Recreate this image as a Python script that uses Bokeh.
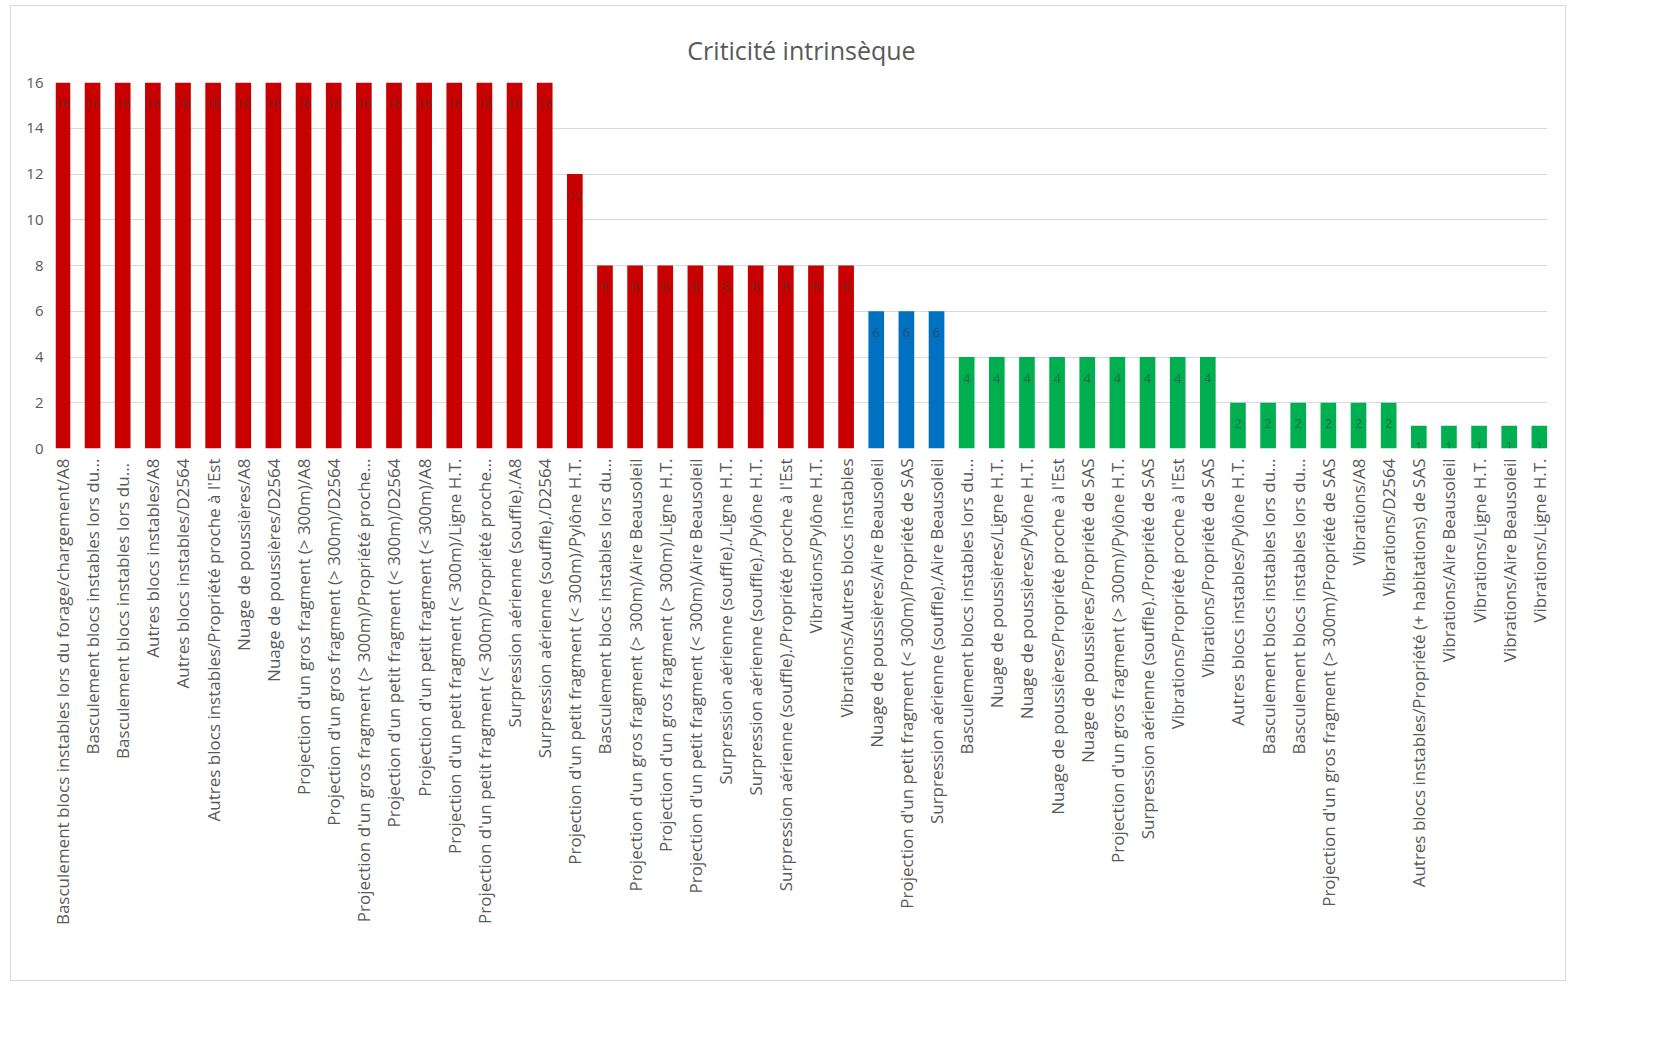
from bokeh.plotting import figure
from bokeh.models import Range1d, FixedTicker, ColumnDataSource
from bokeh.core.properties import value
from bokeh.embed import file_html
from bokeh.resources import INLINE

title = "Criticité intrinsèque"

categories = [
    "Basculement blocs instables lors du forage/chargement/A8",
    "Basculement blocs instables lors du...",
    "Basculement  blocs instables lors du...",
    "Autres blocs instables/A8",
    "Autres blocs instables/D2564",
    "Autres blocs instables/Propriété proche à l'Est",
    "Nuage de poussières/A8",
    "Nuage de poussières/D2564",
    "Projection d'un gros fragment (> 300m)/A8",
    "Projection d'un gros fragment (> 300m)/D2564",
    "Projection d'un gros fragment (> 300m)/Propriété proche...",
    "Projection d'un petit fragment (< 300m)/D2564",
    "Projection d'un petit fragment (< 300m)/A8",
    "Projection d'un petit fragment (< 300m)/Ligne H.T.",
    "Projection d'un petit fragment (< 300m)/Propriété proche...",
    "Surpression aérienne (souffle)./A8",
    "Surpression aérienne (souffle)./D2564",
    "Projection d'un petit fragment (< 300m)/Pylône H.T.",
    "Basculement blocs instables lors du...",
    "Projection d'un gros fragment (> 300m)/Aire Beausoleil",
    "Projection d'un gros fragment (> 300m)/Ligne H.T.",
    "Projection d'un petit fragment (< 300m)/Aire Beausoleil",
    "Surpression aérienne (souffle)./Ligne H.T.",
    "Surpression aérienne (souffle)./Pylône H.T.",
    "Surpression aérienne (souffle)./Propriété proche à l'Est",
    "Vibrations/Pylône H.T.",
    "Vibrations/Autres blocs instables",
    "Nuage de poussières/Aire Beausoleil",
    "Projection d'un petit fragment (< 300m)/Propriété de SAS",
    "Surpression aérienne (souffle)./Aire Beausoleil",
    "Basculement blocs instables lors du...",
    "Nuage de poussières/Ligne H.T.",
    "Nuage de poussières/Pylône H.T.",
    "Nuage de poussières/Propriété proche à l'Est",
    "Nuage de poussières/Propriété de SAS",
    "Projection d'un gros fragment (> 300m)/Pylône H.T.",
    "Surpression aérienne (souffle)./Propriété de SAS",
    "Vibrations/Propriété proche à l'Est",
    "Vibrations/Propriété de SAS",
    "Autres blocs instables/Pylône H.T.",
    "Basculement blocs instables lors du...",
    "Basculement blocs instables lors du...",
    "Projection d'un gros fragment (> 300m)/Propriété de SAS",
    "Vibrations/A8",
    "Vibrations/D2564",
    "Autres blocs instables/Propriété (+ habitations) de SAS",
    "Vibrations/Aire Beausoleil",
    "Vibrations/Ligne H.T.",
    "Vibrations/Aire Beausoleil",
    "Vibrations/Ligne H.T.",
]

values = [16] * 17 + [12] + [8] * 9 + [6] * 3 + [4] * 9 + [2] * 6 + [1] * 5

level_colors = {"red": "#C80000", "blue": "#0070C0", "green": "#00B050"}
levels = ["red"] * 27 + ["blue"] * 3 + ["green"] * 20

y_ticks = [0, 2, 4, 6, 8, 10, 12, 14, 16]

xs = list(range(len(categories)))
colors = [level_colors[l] for l in levels]
labels = [str(v) for v in values]

src = ColumnDataSource(dict(x=xs, top=values, color=colors, label=labels))

p = figure(
    width=1556, height=976,
    output_backend="svg", toolbar_location=None,
    x_range=Range1d(-0.23, 49.27), y_range=Range1d(0, 16),
    min_border_left=44, min_border_right=20,
    min_border_top=76, min_border_bottom=534,
)
p.margin = (5, 0, 0, 10)
p.styles = {"border": "1px solid #d9d9d9"}
p.outline_line_color = None
p.background_fill_color = "white"
p.border_fill_color = "white"

p.title.text = title
p.title.align = "center"
p.title.vertical_align = "top"
p.title.text_font = "Open Sans"
p.title.text_font_size = "25px"
p.title.text_font_style = "normal"
p.title.text_color = "#595959"
p.title.standoff = 28

p.vbar(x="x", top="top", width=0.52, bottom=0, fill_color="color",
       line_color=None, source=src)

p.text(x="x", y="top", text="label", source=src,
       text_align="center", text_baseline="middle", y_offset=21,
       text_font=value("Open Sans"), text_font_size="13px",
       text_color="#3a3a3a", text_alpha=0.6)

p.xaxis.ticker = FixedTicker(ticks=xs)
p.xaxis.major_label_overrides = {i: c for i, c in enumerate(categories)}
p.xaxis.major_label_orientation = 1.5707963
p.xaxis.major_label_text_font = "Open Sans"
p.xaxis.major_label_text_font_size = "17px"
p.xaxis.major_label_text_color = "#595959"
p.xaxis.major_label_standoff = 4
p.xaxis.axis_line_color = None
p.xaxis.major_tick_line_color = None
p.xaxis.minor_tick_line_color = None

p.yaxis.ticker = FixedTicker(ticks=y_ticks)
p.yaxis.major_label_text_font = "Open Sans"
p.yaxis.major_label_text_font_size = "15px"
p.yaxis.major_label_text_color = "#595959"
p.yaxis.axis_line_color = None
p.yaxis.major_tick_line_color = None
p.yaxis.minor_tick_line_color = None
p.yaxis.major_label_standoff = 6

p.xgrid.grid_line_color = None
p.ygrid.ticker = FixedTicker(ticks=y_ticks)
p.ygrid.grid_line_color = "#d9d9d9"
p.ygrid.grid_line_width = 1

open("out.html", "w").write(file_html(p, INLINE))
